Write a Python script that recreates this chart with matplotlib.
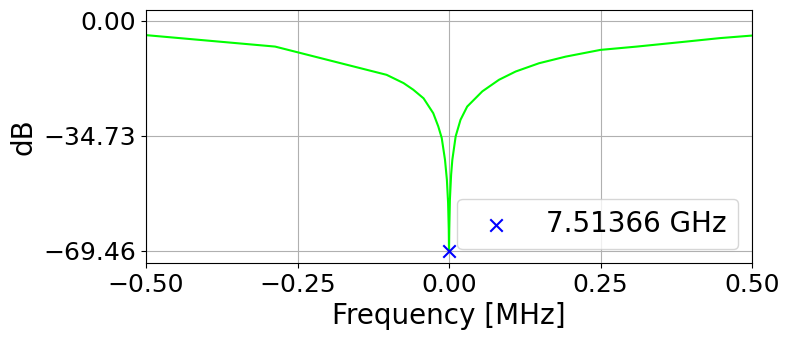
import matplotlib
matplotlib.use("Agg")
import matplotlib.pyplot as plt
import numpy as np

freq_mhz = [-0.5, -0.287, -0.103, -0.075, -0.059, -0.042, -0.026, -0.0177, -0.012, -0.0066,
            -0.0035, -0.0015, -0.0004, 0.0,
            0.0004, 0.0015, 0.0035, 0.0055, 0.011, 0.019, 0.030, 0.055, 0.0825, 0.110,
            0.1485, 0.1925, 0.250, 0.310, 0.392, 0.447, 0.5]
mag_db = [-4.3, -7.76, -16.3, -18.8, -20.8, -23.4, -27.9, -31.9, -35.4, -42.0,
          -48.0, -55.0, -63.0, -69.46,
          -63.0, -54.0, -46.5, -42.0, -34.9, -29.9, -25.9, -21.3, -17.8, -15.3,
          -12.8, -10.8, -8.76, -7.76, -6.24, -5.2, -4.43]
res_freq_mhz = [0.0]
res_db = [-69.46]
res_label = "7.51366 GHz"
yticks = [0.0, -34.73, -69.46]
xticks = [-0.5, -0.25, 0.0, 0.25, 0.5]

fig = plt.figure(figsize=(7.9, 3.4), dpi=100)
ax = fig.add_axes([146/790, 1 - 263/340, (752-146)/790, (263-10)/340])
ax.plot(freq_mhz, mag_db, color="#00ff00", lw=1.5)
ax.scatter(res_freq_mhz, res_db, marker="x", color="blue", s=80, zorder=3, label=res_label)
ax.set_xlim(-0.5, 0.5)
ax.set_ylim(-73.2, 3.3)
ax.set_xticks(xticks)
ax.set_yticks(yticks)
ax.set_yticklabels([f"{v:.2f}".replace("-", "\u2212") for v in yticks])
ax.tick_params(labelsize=18)
ax.grid(True, color="#b0b0b0")
ax.set_xlabel("Frequency [MHz]", fontsize=20)
ax.set_ylabel("dB", fontsize=20)
ax.legend(loc="lower right", fontsize=20)
fig.savefig("out.png", dpi=100)
